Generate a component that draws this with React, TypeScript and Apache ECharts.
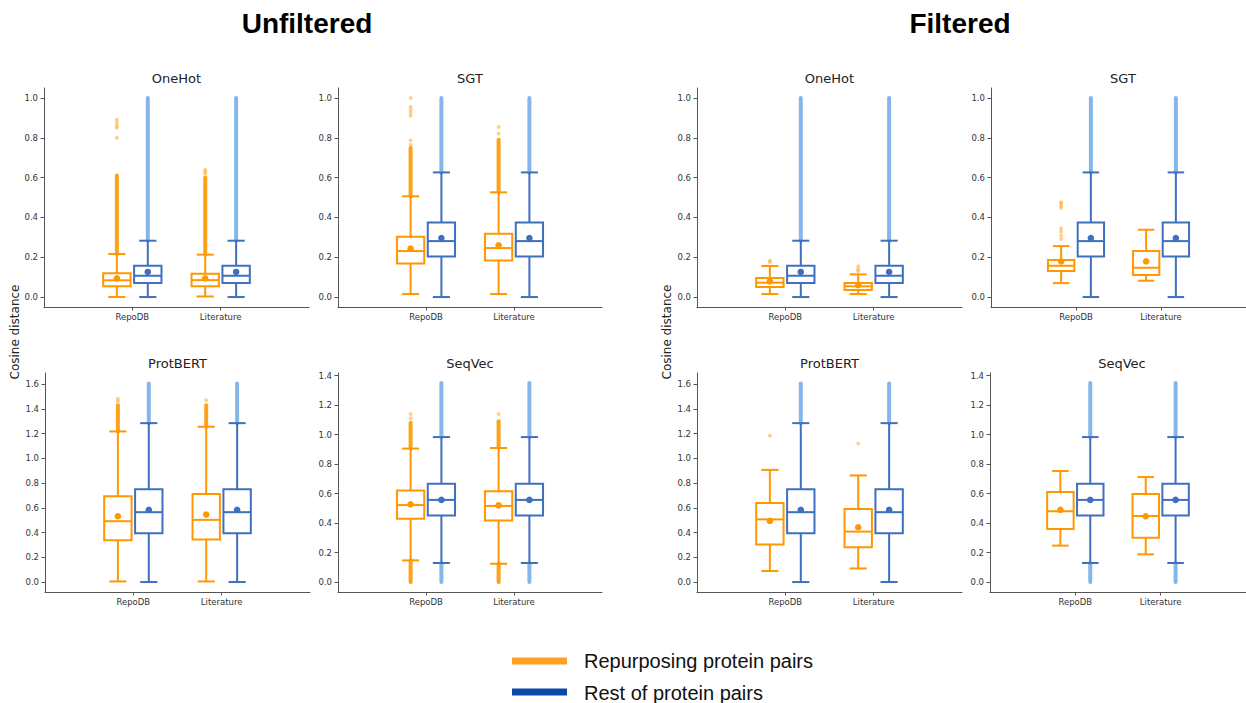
import React, { useEffect, useRef } from "react";
import * as echarts from "echarts";

// ---------- data ----------
const categories = ["RepoDB", "Literature"];
const panelTitles = ["OneHot", "SGT", "ProtBERT", "SeqVec"];
const groupTitles = ["Unfiltered", "Filtered"];
const legendLabels = ["Repurposing protein pairs", "Rest of protein pairs"];
const yAxisTitle = "Cosine distance";

// tick labels
const ticksUnit = [0, 0.2, 0.4, 0.6, 0.8, 1.0];
const ticksProtBERT = [0, 0.2, 0.4, 0.6, 0.8, 1.0, 1.2, 1.4, 1.6];
const ticksSeqVec = [0, 0.2, 0.4, 0.6, 0.8, 1.0, 1.2, 1.4];

// box stats: [lower whisker, Q1, median, Q3, upper whisker]
// Rest of protein pairs (same in unfiltered and filtered views, same for both categories)
const restOneHot = [0.0, 0.07, 0.107, 0.157, 0.283];
const restOneHotMean = 0.126;
const restOneHotRuns = [[0.283, 1.0]];
const restSGT = [0.0, 0.204, 0.281, 0.375, 0.626];
const restSGTMean = 0.296;
const restSGTRuns = [[0.626, 1.0]];
const restProtBERT = [0.0, 0.395, 0.565, 0.75, 1.285];
const restProtBERTMean = 0.583;
const restProtBERTRuns = [[1.285, 1.605]];
const restSeqVec = [0.129, 0.452, 0.557, 0.666, 0.983];
const restSeqVecMean = 0.557;
const restSeqVecRuns = [[0.0, 0.129], [0.983, 1.35]];

// Repurposing protein pairs — unfiltered (one row per category)
const unfOneHot = [[0.0, 0.054, 0.084, 0.12, 0.216], [0.003, 0.054, 0.085, 0.117, 0.213]];
const unfOneHotMean = [0.094, 0.094];
const unfOneHotRuns = [[0, 0.216, 0.61], [1, 0.213, 0.6]];
const unfOneHotPoints = [[0, 0.8], [0, 0.85], [0, 0.86], [0, 0.875], [0, 0.89], [1, 0.62], [1, 0.63], [1, 0.64]];

const unfSGT = [[0.015, 0.169, 0.231, 0.303, 0.506], [0.015, 0.183, 0.246, 0.318, 0.526]];
const unfSGTMean = [0.243, 0.26];
const unfSGTRuns = [[0, 0.506, 0.75], [1, 0.526, 0.79]];
const unfSGTPoints = [[0, 0.765], [0, 0.787], [0, 0.91], [0, 0.925], [0, 0.94], [0, 0.955], [0, 1.0], [1, 0.82], [1, 0.854]];

const unfProtBERT = [[0.005, 0.339, 0.492, 0.694, 1.218], [0.005, 0.344, 0.503, 0.713, 1.256]];
const unfProtBERTMean = [0.532, 0.546];
const unfProtBERTRuns = [[0, 1.218, 1.43], [1, 1.256, 1.43]];
const unfProtBERTPoints = [[0, 1.46], [0, 1.48], [1, 1.47]];

const unfSeqVec = [[0.147, 0.43, 0.522, 0.62, 0.905], [0.124, 0.418, 0.516, 0.615, 0.909]];
const unfSeqVecMean = [0.527, 0.52];
const unfSeqVecRuns = [[0, 0.0, 0.147], [0, 0.905, 1.08], [1, 0.0, 0.124], [1, 0.909, 1.09]];
const unfSeqVecPoints = [[0, 1.11], [0, 1.14], [1, 1.14]];

// Repurposing protein pairs — filtered
const filOneHot = [[0.015, 0.05, 0.072, 0.096, 0.156], [0.015, 0.035, 0.054, 0.07, 0.114]];
const filOneHotMean = [0.079, 0.06];
const filOneHotRuns: number[][] = [];
const filOneHotPoints = [[0, 0.175], [0, 0.183], [1, 0.13], [1, 0.14], [1, 0.155]];

const filSGT = [[0.07, 0.131, 0.157, 0.186, 0.256], [0.082, 0.111, 0.147, 0.231, 0.338]];
const filSGTMean = [0.179, 0.179];
const filSGTRuns: number[][] = [];
const filSGTPoints = [[0, 0.291], [0, 0.308], [0, 0.328], [0, 0.345], [0, 0.447], [0, 0.458], [0, 0.468], [0, 0.476]];

const filProtBERT = [[0.089, 0.303, 0.507, 0.639, 0.907], [0.11, 0.282, 0.408, 0.591, 0.862]];
const filProtBERTMean = [0.494, 0.443];
const filProtBERTRuns: number[][] = [];
const filProtBERTPoints = [[0, 1.184], [1, 1.12]];

const filSeqVec = [[0.247, 0.36, 0.48, 0.611, 0.753], [0.188, 0.301, 0.448, 0.597, 0.712]];
const filSeqVecMean = [0.489, 0.446];
const filSeqVecRuns: number[][] = [];
const filSeqVecPoints: number[][] = [];

// ---------- style ----------
const ORANGE = "#FF9800";
const ORANGE_FLIER = "#FFA733";
const BLUE = "#3F6FBF";
const BLUE_FLIER = "#84B6E9";
const LEGEND_ORANGE = "#FFA126";
const LEGEND_BLUE = "#0A47A9";
const OFFSETS = [-0.175, 0.175];
const BOX_HW = 0.155;
const CAP_HW = 0.097;

type Panel = {
  title: string;
  left: number;
  top: number;
  width: number;
  ymin: number;
  ymax: number;
  ticks: number[];
  rep: number[][];
  repMean: number[];
  repRuns: number[][];
  repPoints: number[][];
  rest: number[];
  restMean: number;
  restRuns: number[][];
};

const W = 265;
const H = 219;
const TOP1 = 88;
const TOP2 = 373;

const panels: Panel[] = [
  { title: panelTitles[0], left: 44, top: TOP1, width: W, ymin: -0.05, ymax: 1.05, ticks: ticksUnit, rep: unfOneHot, repMean: unfOneHotMean, repRuns: unfOneHotRuns, repPoints: unfOneHotPoints, rest: restOneHot, restMean: restOneHotMean, restRuns: restOneHotRuns },
  { title: panelTitles[1], left: 338, top: TOP1, width: W - 1, ymin: -0.05, ymax: 1.05, ticks: ticksUnit, rep: unfSGT, repMean: unfSGTMean, repRuns: unfSGTRuns, repPoints: unfSGTPoints, rest: restSGT, restMean: restSGTMean, restRuns: restSGTRuns },
  { title: panelTitles[2], left: 45, top: TOP2, width: W, ymin: -0.0805, ymax: 1.6905, ticks: ticksProtBERT, rep: unfProtBERT, repMean: unfProtBERTMean, repRuns: unfProtBERTRuns, repPoints: unfProtBERTPoints, rest: restProtBERT, restMean: restProtBERTMean, restRuns: restProtBERTRuns },
  { title: panelTitles[3], left: 338, top: TOP2, width: W - 1, ymin: -0.0675, ymax: 1.4175, ticks: ticksSeqVec, rep: unfSeqVec, repMean: unfSeqVecMean, repRuns: unfSeqVecRuns, repPoints: unfSeqVecPoints, rest: restSeqVec, restMean: restSeqVecMean, restRuns: restSeqVecRuns },
  { title: panelTitles[0], left: 697, top: TOP1, width: W, ymin: -0.05, ymax: 1.05, ticks: ticksUnit, rep: filOneHot, repMean: filOneHotMean, repRuns: filOneHotRuns, repPoints: filOneHotPoints, rest: restOneHot, restMean: restOneHotMean, restRuns: restOneHotRuns },
  { title: panelTitles[1], left: 991, top: TOP1, width: W - 1, ymin: -0.05, ymax: 1.05, ticks: ticksUnit, rep: filSGT, repMean: filSGTMean, repRuns: filSGTRuns, repPoints: filSGTPoints, rest: restSGT, restMean: restSGTMean, restRuns: restSGTRuns },
  { title: panelTitles[2], left: 697, top: TOP2, width: W, ymin: -0.0805, ymax: 1.6905, ticks: ticksProtBERT, rep: filProtBERT, repMean: filProtBERTMean, repRuns: filProtBERTRuns, repPoints: filProtBERTPoints, rest: restProtBERT, restMean: restProtBERTMean, restRuns: restProtBERTRuns },
  { title: panelTitles[3], left: 990, top: TOP2, width: W - 1, ymin: -0.0675, ymax: 1.4175, ticks: ticksSeqVec, rep: filSeqVec, repMean: filSeqVecMean, repRuns: filSeqVecRuns, repPoints: filSeqVecPoints, rest: restSeqVec, restMean: restSeqVecMean, restRuns: restSeqVecRuns },
];

function boxRenderer(offset: number, color: string) {
  return (params: any, api: any) => {
    const cx = api.value(0) + offset;
    const low = api.value(1), q1 = api.value(2), med = api.value(3), q3 = api.value(4), high = api.value(5);
    const mean = api.value(6);
    const p = (x: number, y: number) => api.coord([x, y]);
    const ls = { stroke: color, lineWidth: 2, fill: null };
    const a = p(cx - BOX_HW, q3);
    const b = p(cx + BOX_HW, q1);
    const m = p(cx, mean);
    const seg = (x1: number, y1: number, x2: number, y2: number) => {
      const s = p(x1, y1), e = p(x2, y2);
      return { type: "line", shape: { x1: s[0], y1: s[1], x2: e[0], y2: e[1] }, style: ls };
    };
    return {
      type: "group",
      children: [
        seg(cx, low, cx, q1),
        seg(cx, q3, cx, high),
        seg(cx - CAP_HW, low, cx + CAP_HW, low),
        seg(cx - CAP_HW, high, cx + CAP_HW, high),
        { type: "rect", shape: { x: a[0], y: a[1], width: b[0] - a[0], height: b[1] - a[1] }, style: { stroke: color, lineWidth: 2, fill: "rgba(255,255,255,0)" } },
        seg(cx - BOX_HW, med, cx + BOX_HW, med),
        { type: "circle", shape: { cx: m[0], cy: m[1], r: 3.3 }, style: { fill: color } },
      ],
    };
  };
}

function runRenderer(offset: number, color: string, opacity: number) {
  return (params: any, api: any) => {
    const cx = api.value(0) + offset;
    const s = api.coord([cx, api.value(1)]);
    const e = api.coord([cx, api.value(2)]);
    return {
      type: "line",
      shape: { x1: s[0], y1: s[1], x2: e[0], y2: e[1] },
      style: { stroke: color, lineWidth: 4, lineCap: "round", opacity },
    };
  };
}

function pointRenderer(offset: number, color: string) {
  return (params: any, api: any) => {
    const c = api.coord([api.value(0) + offset, api.value(1)]);
    return { type: "circle", shape: { cx: c[0], cy: c[1], r: 2 }, style: { fill: color, opacity: 0.55 } };
  };
}

function buildOption() {
  const grid: any[] = [];
  const xAxis: any[] = [];
  const yAxis: any[] = [];
  const series: any[] = [];
  const title: any[] = [];

  panels.forEach((pn, i) => {
    grid.push({ left: pn.left, top: pn.top, width: pn.width, height: H, containLabel: false });
    xAxis.push({
      type: "value",
      gridIndex: i,
      min: -1,
      max: 2,
      splitLine: { show: false },
      axisLine: { show: true, onZero: false, lineStyle: { color: "#555", width: 1 } },
      axisTick: { show: true, customValues: [0, 1], length: 3.5, lineStyle: { color: "#555" } },
      axisLabel: {
        customValues: [0, 1],
        formatter: (v: number) => categories[Math.round(v)] ?? "",
        fontSize: 8.5,
        fontFamily: "DejaVu Sans",
        color: "#333",
        margin: 5,
      },
    });
    yAxis.push({
      type: "value",
      gridIndex: i,
      min: pn.ymin,
      max: pn.ymax,
      splitLine: { show: false },
      axisLine: { show: true, onZero: false, lineStyle: { color: "#555", width: 1 } },
      axisTick: { show: true, customValues: pn.ticks, length: 3.5, lineStyle: { color: "#555" } },
      axisLabel: {
        customValues: pn.ticks,
        formatter: (v: number) => v.toFixed(1),
        fontSize: 8.5,
        fontFamily: "DejaVu Sans",
        color: "#333",
        margin: 6,
      },
    });
    title.push({
      text: pn.title,
      left: pn.left + pn.width / 2,
      top: pn.top - 16,
      textAlign: "center",
      padding: 0,
      textStyle: { fontSize: 13, fontWeight: "normal", fontFamily: "DejaVu Sans", color: "#222" },
    });

    const restRunsData: number[][] = [];
    categories.forEach((_, ci) => pn.restRuns.forEach((r) => restRunsData.push([ci, r[0], r[1]])));

    series.push({
      type: "custom", xAxisIndex: i, yAxisIndex: i, z: 1, silent: true,
      renderItem: runRenderer(OFFSETS[1], BLUE_FLIER, 1),
      data: restRunsData,
    });
    series.push({
      type: "custom", xAxisIndex: i, yAxisIndex: i, z: 1, silent: true,
      renderItem: runRenderer(OFFSETS[0], ORANGE, 0.9),
      data: pn.repRuns,
    });
    series.push({
      type: "custom", xAxisIndex: i, yAxisIndex: i, z: 1, silent: true,
      renderItem: pointRenderer(OFFSETS[0], ORANGE_FLIER),
      data: pn.repPoints,
    });
    series.push({
      type: "custom", xAxisIndex: i, yAxisIndex: i, z: 2, silent: true,
      renderItem: boxRenderer(OFFSETS[0], ORANGE),
      data: categories.map((_, ci) => [ci, ...pn.rep[ci], pn.repMean[ci]]),
    });
    series.push({
      type: "custom", xAxisIndex: i, yAxisIndex: i, z: 2, silent: true,
      renderItem: boxRenderer(OFFSETS[1], BLUE),
      data: categories.map((_, ci) => [ci, ...pn.rest, pn.restMean]),
    });
  });

  title.push({
    text: groupTitles[0], left: 307, top: 9, textAlign: "center", padding: 0,
    textStyle: { fontSize: 28, fontWeight: "bold", fontFamily: "Liberation Sans", color: "#000" },
  });
  title.push({
    text: groupTitles[1], left: 960, top: 9, textAlign: "center", padding: 0,
    textStyle: { fontSize: 28, fontWeight: "bold", fontFamily: "Liberation Sans", color: "#000" },
  });

  const graphic: any[] = [
    { type: "text", x: 15, y: 332, rotation: Math.PI / 2, style: { text: yAxisTitle, fontSize: 12, fontFamily: "DejaVu Sans", fill: "#222", align: "center", verticalAlign: "middle" } },
    { type: "text", x: 667, y: 332, rotation: Math.PI / 2, style: { text: yAxisTitle, fontSize: 12, fontFamily: "DejaVu Sans", fill: "#222", align: "center", verticalAlign: "middle" } },
    { type: "rect", shape: { x: 512, y: 657.5, width: 55, height: 7 }, style: { fill: LEGEND_ORANGE } },
    { type: "text", x: 584, y: 661, style: { text: legendLabels[0], fontSize: 20, fontFamily: "Liberation Sans", fill: "#111", verticalAlign: "middle" } },
    { type: "rect", shape: { x: 512, y: 688.5, width: 55, height: 7 }, style: { fill: LEGEND_BLUE } },
    { type: "text", x: 584, y: 693, style: { text: legendLabels[1], fontSize: 20, fontFamily: "Liberation Sans", fill: "#111", verticalAlign: "middle" } },
  ];

  return { animation: false, backgroundColor: "#fff", title, grid, xAxis, yAxis, series, graphic };
}

export default function App() {
  const ref = useRef<HTMLDivElement>(null);
  useEffect(() => {
    if (!ref.current) return;
    const chart = echarts.init(ref.current, undefined, { renderer: "svg" });
    chart.setOption(buildOption() as any);
    return () => chart.dispose();
  }, []);
  return <div ref={ref} style={{ position: "absolute", left: 0, top: 0, width: 1246, height: 703 }} />;
}
